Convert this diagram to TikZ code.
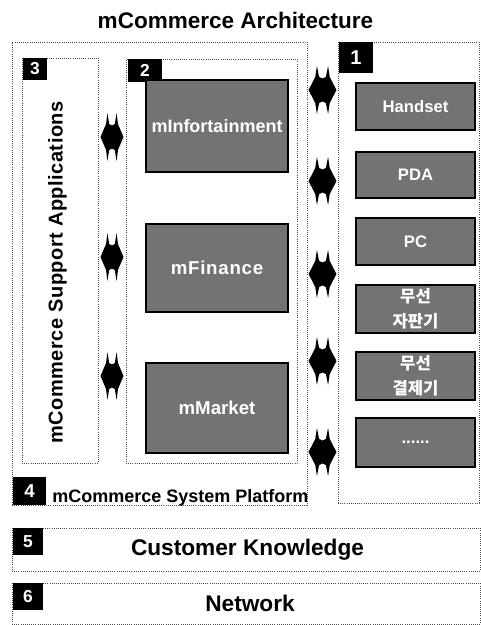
\documentclass[tikz,border=0pt]{standalone}
\usepackage{fontspec}
\setmainfont{Liberation Sans}
\newfontfamily\krfont{Noto Sans CJK KR}
\usetikzlibrary{calc}
\tikzset{
  zone/.style={draw=black!70, densely dotted, line width=0.6pt, inner sep=0pt, outer sep=0pt},
  greybox/.style={draw=black, fill=black!55, line width=1.3pt, text=white, inner sep=0pt,
    font=\bfseries\fontsize{12.5}{14}\selectfont, align=center},
  tagbox/.style={fill=black, text=white, inner sep=0pt, font=\bfseries\fontsize{13}{13}\selectfont},
  dblarrowL/.style={to path={
    ($(\tikztostart)!0.09!(\tikztotarget)$)
    -- ($(\tikztostart)!0.2868!(\tikztotarget)+(0,-13)$)
    -- ($(\tikztostart)!0.336!(\tikztotarget)+(0,-24)$)
    -- ($(\tikztostart)!0.4016!(\tikztotarget)+(0,-13)$)
    -- ($(\tikztostart)!0.5!(\tikztotarget)+(0,-11.5)$)
    -- ($(\tikztostart)!0.5984!(\tikztotarget)+(0,-13)$)
    -- ($(\tikztostart)!0.664!(\tikztotarget)+(0,-24)$)
    -- ($(\tikztostart)!0.7132!(\tikztotarget)+(0,-13)$)
    -- ($(\tikztostart)!0.91!(\tikztotarget)$)
    -- ($(\tikztostart)!0.7132!(\tikztotarget)+(0,13)$)
    -- ($(\tikztostart)!0.664!(\tikztotarget)+(0,24)$)
    -- ($(\tikztostart)!0.5984!(\tikztotarget)+(0,13)$)
    -- ($(\tikztostart)!0.5!(\tikztotarget)+(0,11.5)$)
    -- ($(\tikztostart)!0.4016!(\tikztotarget)+(0,13)$)
    -- ($(\tikztostart)!0.336!(\tikztotarget)+(0,24)$)
    -- ($(\tikztostart)!0.2868!(\tikztotarget)+(0,13)$)
    -- cycle}},
  dblarrowR/.style={to path={
    ($(\tikztostart)!0.05!(\tikztotarget)$)
    -- ($(\tikztostart)!0.266!(\tikztotarget)+(0,-13)$)
    -- ($(\tikztostart)!0.32!(\tikztotarget)+(0,-24)$)
    -- ($(\tikztostart)!0.392!(\tikztotarget)+(0,-13)$)
    -- ($(\tikztostart)!0.5!(\tikztotarget)+(0,-11.5)$)
    -- ($(\tikztostart)!0.608!(\tikztotarget)+(0,-13)$)
    -- ($(\tikztostart)!0.68!(\tikztotarget)+(0,-24)$)
    -- ($(\tikztostart)!0.734!(\tikztotarget)+(0,-13)$)
    -- ($(\tikztostart)!0.95!(\tikztotarget)$)
    -- ($(\tikztostart)!0.734!(\tikztotarget)+(0,13)$)
    -- ($(\tikztostart)!0.68!(\tikztotarget)+(0,24)$)
    -- ($(\tikztostart)!0.608!(\tikztotarget)+(0,13)$)
    -- ($(\tikztostart)!0.5!(\tikztotarget)+(0,11.5)$)
    -- ($(\tikztostart)!0.392!(\tikztotarget)+(0,13)$)
    -- ($(\tikztostart)!0.32!(\tikztotarget)+(0,24)$)
    -- ($(\tikztostart)!0.266!(\tikztotarget)+(0,13)$)
    -- cycle}}
}
\begin{document}
\begin{tikzpicture}[x=0.75pt,y=-0.75pt]
\useasboundingbox[fill=white] (0,0) rectangle (481,625);

% title
\node[font=\bfseries\fontsize{16.9}{20}\selectfont] (title) at (235.5,20) {mCommerce Architecture};

% zones
\node[zone, minimum width=221.25pt, minimum height=347.25pt] (b4) at (159.5,273.5) {};
\node[zone, minimum width=105.75pt, minimum height=345.75pt] (b1) at (408.5,272.5) {};
\node[zone, minimum width=57pt, minimum height=303.75pt] (b3) at (60,260.5) {};
\node[zone, minimum width=128.25pt, minimum height=303pt] (b2) at (211.5,261) {};
\node[zone, minimum width=351pt, minimum height=32.25pt] (b5) at (246,549.5) {};
\node[zone, minimum width=351pt, minimum height=30.75pt] (b6) at (246,603.5) {};

% tags
\node[tagbox, minimum width=18pt, minimum height=16.5pt] (t3) at (35,69) {3};
\node[tagbox, minimum width=25.5pt, minimum height=17.25pt] (t2) at (145,70.5) {2};
\node[tagbox, minimum width=25.5pt, minimum height=23.25pt, font=\bfseries\fontsize{15}{15}\selectfont] (t1) at (356,57.5) {1};
\node[tagbox, minimum width=24.75pt, minimum height=21pt, font=\bfseries\fontsize{14}{14}\selectfont] (t4) at (29.5,491) {4};
\node[tagbox, minimum width=22.5pt, minimum height=20.25pt] (t5) at (28,541.5) {5};
\node[tagbox, minimum width=22.5pt, minimum height=20.25pt] (t6) at (28,596.5) {6};

% zone captions
\node[rotate=90, font=\bfseries\fontsize{15}{15}\selectfont\addfontfeatures{LetterSpace=2.5}] (cap3) at (57.5,272.5) {mCommerce Support Applications};
\node[anchor=base west, inner sep=0pt, font=\bfseries\fontsize{13.5}{14}\selectfont] (cap4) at (52,502) {mCommerce System Platform};
\node[font=\bfseries\fontsize{17}{18}\selectfont] (cap5) at (247.5,549.5) {Customer Knowledge};
\node[font=\bfseries\fontsize{17}{18}\selectfont] (cap6) at (250,603.5) {Network};

% services
\node[greybox, minimum width=106.5pt, minimum height=69pt, font=\bfseries\fontsize{13.5}{14}\selectfont] (minfo) at (217,126) {mInfortainment};
\node[greybox, minimum width=106.5pt, minimum height=66pt, font=\bfseries\fontsize{14}{14}\selectfont\addfontfeatures{LetterSpace=4}] (mfin) at (217,268) {mFinance};
\node[greybox, minimum width=106.5pt, minimum height=67.5pt, font=\bfseries\fontsize{14}{14}\selectfont] (mmkt) at (217,408) {mMarket};

% devices
\node[greybox, minimum width=89.25pt, minimum height=35.25pt] (handset) at (415.5,106.5) {Handset};
\node[greybox, minimum width=89.25pt, minimum height=34.5pt] (pda) at (415.5,175) {PDA};
\node[greybox, minimum width=89.25pt, minimum height=35.25pt] (pc) at (415.5,241.5) {PC};
\node[greybox, minimum width=89.25pt, minimum height=36pt, font=\krfont\bfseries\fontsize{12.5}{18.5}\selectfont] (vend) at (415.5,309) {무선\\자판기};
\node[greybox, minimum width=89.25pt, minimum height=36pt, font=\krfont\bfseries\fontsize{12.5}{18.5}\selectfont] (pay) at (415.5,376) {무선\\결제기};
\node[greybox, minimum width=89.25pt, minimum height=36.75pt] (more) at (415.5,442.5) {......};

% connector rows
\coordinate (yl1) at (0,137);
\coordinate (yl2) at (0,257);
\coordinate (yl3) at (0,376);
\coordinate (yr1) at (0,90);
\coordinate (yr2) at (0,181);
\coordinate (yr3) at (0,274);
\coordinate (yr4) at (0,361);
\coordinate (yr5) at (0,452);
\coordinate (la1) at (b3.east |- yl1); \coordinate (lb1) at (b2.west |- yl1);
\coordinate (la2) at (b3.east |- yl2); \coordinate (lb2) at (b2.west |- yl2);
\coordinate (la3) at (b3.east |- yl3); \coordinate (lb3) at (b2.west |- yl3);
\coordinate (ra1) at (b4.east |- yr1); \coordinate (rb1) at (b1.west |- yr1);
\coordinate (ra2) at (b4.east |- yr2); \coordinate (rb2) at (b1.west |- yr2);
\coordinate (ra3) at (b4.east |- yr3); \coordinate (rb3) at (b1.west |- yr3);
\coordinate (ra4) at (b4.east |- yr4); \coordinate (rb4) at (b1.west |- yr4);
\coordinate (ra5) at (b4.east |- yr5); \coordinate (rb5) at (b1.west |- yr5);

\fill[dblarrowL] (la1) to (lb1);
\fill[dblarrowL] (la2) to (lb2);
\fill[dblarrowL] (la3) to (lb3);
\fill[dblarrowR] (ra1) to (rb1);
\fill[dblarrowR] (ra2) to (rb2);
\fill[dblarrowR] (ra3) to (rb3);
\fill[dblarrowR] (ra4) to (rb4);
\fill[dblarrowR] (ra5) to (rb5);
\end{tikzpicture}
\end{document}
